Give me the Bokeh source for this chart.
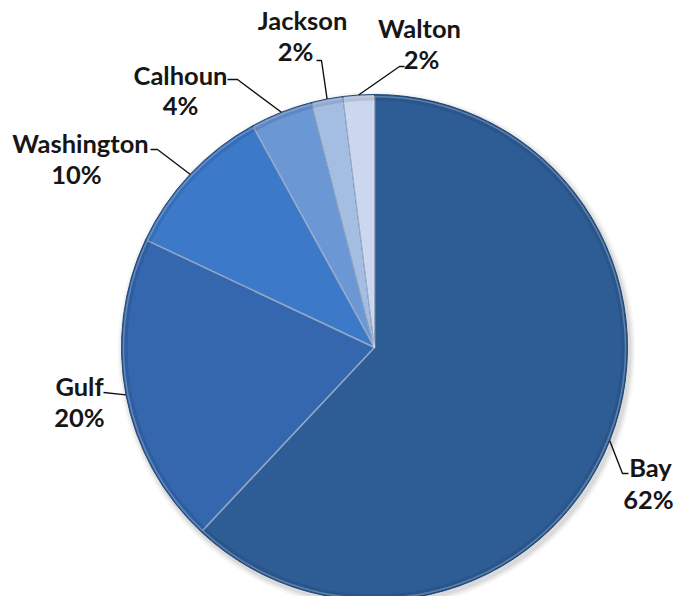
import numpy as np
from bokeh.plotting import figure
from bokeh.models import ColumnDataSource, Range1d
from bokeh.core.properties import value
from bokeh.embed import file_html
from bokeh.resources import INLINE

# ---- data ----
counties = ["Bay", "Gulf", "Washington", "Calhoun", "Jackson", "Walton"]
shares = [62, 20, 10, 4, 2, 2]
pct_labels = ["62%", "20%", "10%", "4%", "2%", "2%"]

# ---- styles ----
colors = ["#2E5D96", "#3467AE", "#3C79C9", "#6B97D4", "#A4BDE2", "#CAD7EE"]

W, H = 682, 596
def px(X):  # page x -> data x
    return X
def py(Y):  # page y -> data y
    return H - Y

cx, cy, R = px(374), py(347), 253

# label layout (page coords): name center, pct center, leader start, elbow
layout = {
    "Bay":        dict(name=(650, 466), pct=(648, 498), pts=[(628, 473), (622, 473)]),
    "Gulf":       dict(name=(79, 385),  pct=(79, 416),  pts=[(103, 392)]),
    "Washington": dict(name=(80, 142),  pct=(76, 173),  pts=[(150, 149), (157, 149)]),
    "Calhoun":    dict(name=(180, 74),  pct=(180, 104), pts=[(227, 79), (237, 79)]),
    "Jackson":    dict(name=(302, 19),  pct=(295, 50),  pts=[(316, 60), (321, 60)]),
    "Walton":     dict(name=(419, 27),  pct=(421, 58),  pts=[(404, 66), (399, 66)]),
}

vals = np.array(shares, dtype=float)
frac = vals / vals.sum()
cum = np.concatenate([[0], np.cumsum(frac)])
start = np.pi / 2 - 2 * np.pi * cum[:-1]
end = np.pi / 2 - 2 * np.pi * cum[1:]
mid = (start + end) / 2

p = figure(width=W, height=H, output_backend="svg", toolbar_location=None,
           x_range=Range1d(0, W), y_range=Range1d(0, H), min_border=0)
p.axis.visible = False
p.grid.visible = False
p.outline_line_color = None
p.background_fill_color = "white"
p.border_fill_color = "white"

# soft shadow
for dr, a in [(6, 0.06), (4, 0.10), (2, 0.16)]:
    p.circle(x=[cx + 2], y=[cy - 3], radius=R + dr, fill_color="#808080",
             fill_alpha=a, line_color=None)

src = ColumnDataSource(dict(x=[cx] * len(counties), y=[cy] * len(counties),
                            start=start, end=end, color=colors))
p.wedge(x="x", y="y", radius=R, start_angle="start", end_angle="end",
        direction="clock", fill_color="color", line_color="#24497A",
        line_width=1.0, source=src)
# bevel highlight
p.wedge(x="x", y="y", radius=R - 2, start_angle="start", end_angle="end",
        direction="clock", fill_color=None, line_color="white",
        line_alpha=0.3, line_width=1.5, source=src)
# inner darkening toward rim
p.annulus(x=[cx], y=[cy], inner_radius=R - 6, outer_radius=R,
          fill_color="#0A2240", fill_alpha=0.12, line_color=None)

# leader lines and labels
for i, c in enumerate(counties):
    L = layout[c]
    ex = cx + R * np.cos(mid[i])
    ey = cy + R * np.sin(mid[i])
    xs = [px(a) for a, b in L["pts"]] + [ex]
    ys = [py(b) for a, b in L["pts"]] + [ey]
    p.line(xs, ys, line_color="#111111", line_width=1.4)

names_x = [px(layout[c]["name"][0]) for c in counties]
names_y = [py(layout[c]["name"][1]) for c in counties]
pct_x = [px(layout[c]["pct"][0]) for c in counties]
pct_y = [py(layout[c]["pct"][1]) for c in counties]
p.text(x=names_x, y=names_y, text=counties, text_align="center",
       text_baseline="middle", text_font=value("Lato"), text_font_style="bold",
       text_font_size="25.5px", text_color="#161616")
p.text(x=pct_x, y=pct_y, text=pct_labels, text_align="center",
       text_baseline="middle", text_font=value("Lato"), text_font_style="bold",
       text_font_size="25.5px", text_color="#161616")

open("out.html", "w").write(file_html(p, INLINE))
